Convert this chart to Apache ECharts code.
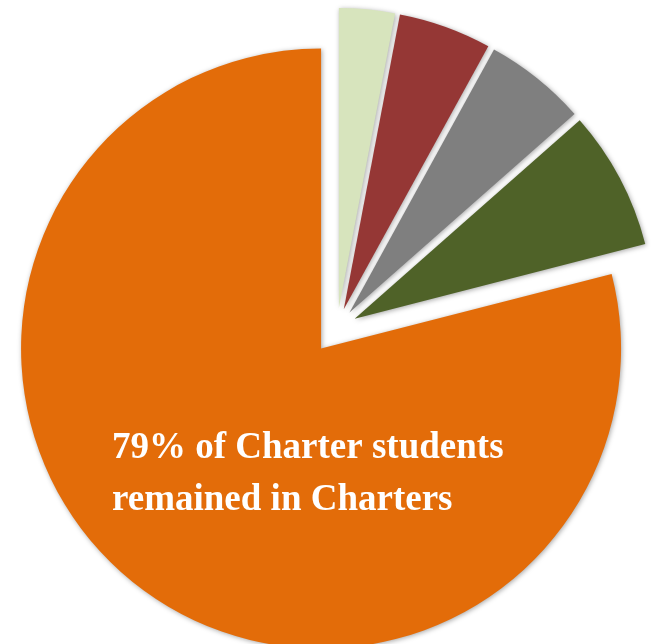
<!DOCTYPE html>
<html>
<head>
<meta charset="utf-8">
<style>
  html, body { margin: 0; padding: 0; background: #ffffff; }
  #chart { width: 661px; height: 644px; }
</style>
<script src="https://cdn.jsdelivr.net/npm/echarts@6/dist/echarts.min.js"></script>
</head>
<body>
<div id="chart"></div>
<script>
// Where students who started in Charter schools ended up (percent)
const categories = ['Other A', 'Other B', 'Other C', 'Other D', 'Remained in Charters'];
const shares = [3, 5, 5.5, 7.5, 79];
const colors = ['#D7E4BD', '#953735', '#7F7F7F', '#4F6228', '#E36C09'];
const headline = ['79% of Charter students', 'remained in Charters'];

const MAIN = categories.length - 1;

// Two overlaid pies share one centre: the first shows only the large slice,
// the second only the small ones, so each group can be pulled out by its own amount.
function buildData(showMain) {
  return categories.map((name, i) => {
    const visible = showMain ? i === MAIN : i !== MAIN;
    return {
      name,
      value: shares[i],
      selected: visible,
      itemStyle: visible
        ? { color: colors[i], shadowBlur: 5, shadowColor: 'rgba(0,0,0,0.35)', shadowOffsetX: 1, shadowOffsetY: 1 }
        : { color: 'rgba(0,0,0,0)' }
    };
  });
}

const pieBase = {
  type: 'pie',
  center: [337, 328],
  radius: 300,
  startAngle: 90,
  clockwise: true,
  selectedMode: 'multiple',
  label: { show: false },
  labelLine: { show: false },
  emphasis: { disabled: true },
  animation: false
};

const chart = echarts.init(document.getElementById('chart'), null, { renderer: 'canvas' });
chart.setOption({
  backgroundColor: '#ffffff',
  series: [
    Object.assign({}, pieBase, { selectedOffset: 26, data: buildData(true) }),
    Object.assign({}, pieBase, { selectedOffset: 20, data: buildData(false) })
  ],
  graphic: headline.map((line, i) => ({
    type: 'text',
    left: 112,
    top: 430 + i * 52,
    z: 100,
    silent: true,
    style: {
      text: line,
      fill: '#ffffff',
      font: 'bold 37px "Liberation Serif", "Times New Roman", serif'
    }
  }))
});
</script>
</body>
</html>
